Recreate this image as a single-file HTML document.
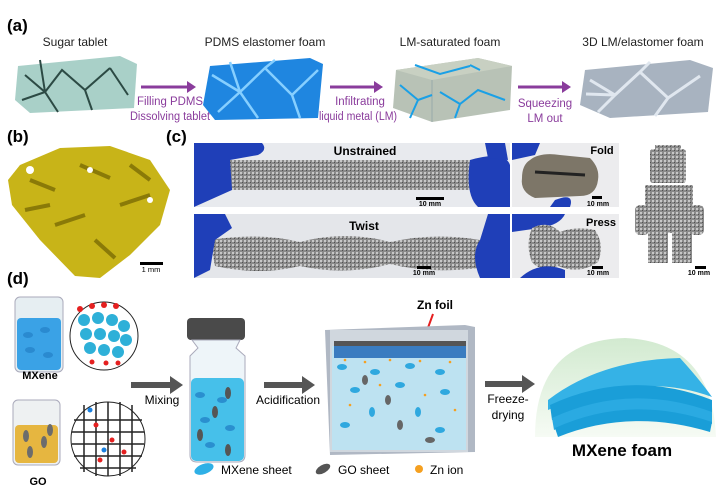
<!DOCTYPE html>
<html><head><meta charset="utf-8"><style>
html,body{margin:0;padding:0;background:#fff}
svg{display:block}
text{font-family:"Liberation Sans",Arial,sans-serif}
</style></head><body>
<svg width="720" height="494" viewBox="0 0 720 494" xmlns="http://www.w3.org/2000/svg">
<defs>
<pattern id="grain" width="4" height="4" patternUnits="userSpaceOnUse">
<rect width="4" height="4" fill="#8a8a8a"/><rect x="0" y="0" width="2" height="2" fill="#c8c8c8"/><rect x="2" y="2" width="1" height="1" fill="#505050"/>
</pattern>
<linearGradient id="dome" x1="0" y1="0" x2="0" y2="1"><stop offset="0" stop-color="#d2ead0"/><stop offset="1" stop-color="#f6fbf4"/></linearGradient>
</defs>
<!-- (a) -->
<text x="7" y="31" font-size="17" font-weight="bold">(a)</text>
<g font-size="12" fill="#222" text-anchor="middle">
<text x="75" y="46">Sugar tablet</text>
<text x="265" y="46">PDMS elastomer foam</text>
<text x="450" y="46">LM-saturated foam</text>
<text x="643" y="46">3D LM/elastomer foam</text>
</g>
<polygon points="18,66 120,56 137,64 134,108 30,113 15,100" fill="#a9d0c8"/>
<path d="M25,75 L45,92 L62,70 L85,90 L110,68 M22,100 L45,92 L58,112 M85,90 L92,110 M110,68 L128,95 M40,60 L45,92" stroke="#2c4a44" stroke-width="2" fill="none"/>
<polygon points="210,66 310,58 323,64 318,118 215,120 203,105" fill="#1f86e0"/>
<path d="M212,75 L240,92 L265,68 L292,95 L318,70 M218,112 L240,92 L258,118 M292,95 L300,118 M230,62 L240,92 M275,60 L265,68" stroke="#86cfff" stroke-width="2.5" fill="none"/>
<polygon points="396,70 478,58 512,66 510,110 432,122 393,108" fill="#b8c2b6"/>
<path d="M396,70 L478,58 L512,66 L432,80 Z" fill="#c8d0c2"/>
<path d="M432,80 L432,122" stroke="#9aa" stroke-width="1"/>
<path d="M400,85 L418,100 L410,118 M418,100 L432,95 M440,92 L460,104 L478,90 L505,100 M460,104 L455,118 M480,70 L470,65 M415,65 L440,74 L470,66" stroke="#1aa0e6" stroke-width="2" fill="none"/>
<polygon points="585,70 690,60 713,68 708,112 610,118 580,105" fill="#a8b3c0"/>
<path d="M590,80 L615,95 L640,72 L668,98 L700,76 M598,112 L615,95 M655,116 L668,98 M586,94 L615,95 M640,72 L650,62" stroke="#e0e7ef" stroke-width="3" fill="none"/>
<g fill="#8a3c9c">
<rect x="141" y="85.5" width="47" height="3"/><polygon points="187,81 196,87 187,93"/>
<rect x="330" y="85.5" width="45" height="3"/><polygon points="374,81 383,87 374,93"/>
<rect x="518" y="85.5" width="45" height="3"/><polygon points="562,81 571,87 562,93"/>
</g>
<g font-size="11.5" fill="#8a3c9c" text-anchor="middle">
<text x="170" y="105" textLength="66" lengthAdjust="spacingAndGlyphs">Filling PDMS</text><text x="170" y="120" textLength="80" lengthAdjust="spacingAndGlyphs">Dissolving tablet</text>
<text x="360" y="105">Infiltrating</text><text x="358" y="120" textLength="78" lengthAdjust="spacingAndGlyphs">liquid metal (LM)</text>
<text x="545" y="107">Squeezing</text><text x="545" y="122">LM out</text>
</g>
<!-- (b) -->
<text x="7" y="142" font-size="17" font-weight="bold">(b)</text>
<path d="M20,165 L60,148 L110,146 L150,160 L170,190 L160,225 L130,255 L100,278 L75,276 L40,240 L12,205 L8,180 Z" fill="#c8b418"/>
<path d="M30,180 L55,190 M80,165 L110,178 M120,205 L150,195 M55,225 L85,215 M95,240 L115,258 M25,210 L50,205 M130,165 L150,180" stroke="#8a7a08" stroke-width="4"/>
<g fill="#fff"><circle cx="30" cy="170" r="4"/><circle cx="90" cy="170" r="3"/><circle cx="150" cy="200" r="3"/></g>
<rect x="140" y="262" width="23" height="3" fill="#000"/>
<text x="151" y="272" font-size="7.5" text-anchor="middle">1 mm</text>
<!-- (c) -->
<text x="166" y="142" font-size="17" font-weight="bold">(c)</text>
<rect x="194" y="143" width="316" height="64" fill="#e8eaee"/>
<rect x="200" y="160" width="290" height="30" fill="url(#grain)"/>
<path d="M194,143 L262,143 Q268,150 258,155 L230,160 L232,190 L194,207 Z" fill="#1f3fb8"/>
<path d="M470,160 Q505,150 510,165 L510,207 L478,207 Q465,195 470,160 Z" fill="#1f3fb8"/>
<path d="M485,143 L505,143 L508,160 L488,158 Z" fill="#1f3fb8"/>
<text x="365" y="155" font-size="12" font-weight="bold" text-anchor="middle">Unstrained</text>
<rect x="416" y="197" width="28" height="3"/><text x="430" y="206" font-size="7" font-weight="bold" text-anchor="middle">10 mm</text>
<rect x="194" y="214" width="316" height="64" fill="#e4e6ea"/>
<path d="M210,240 Q260,232 300,242 Q345,230 390,242 Q435,232 480,240 L478,268 Q430,274 390,264 Q345,276 300,266 Q260,276 215,266 Z" fill="url(#grain)"/>
<path d="M194,214 L225,214 L232,228 L215,240 L210,270 L194,278 Z" fill="#1f3fb8"/>
<path d="M488,214 L510,214 L510,278 L480,278 Q470,255 480,240 Z" fill="#1f3fb8"/>
<text x="364" y="230" font-size="12" font-weight="bold" text-anchor="middle">Twist</text>
<rect x="417" y="266" width="14" height="3"/><text x="424" y="275" font-size="7" font-weight="bold" text-anchor="middle">10 mm</text>
<rect x="512" y="143" width="107" height="64" fill="#ececee"/>
<path d="M530,160 Q540,152 560,155 L590,158 Q600,168 598,180 Q596,196 580,196 L535,198 Q520,192 522,178 Q522,165 530,160 Z" fill="#7d7668"/>
<path d="M535,172 L585,175" stroke="#222" stroke-width="3"/>
<path d="M512,143 L540,143 L535,155 L512,160 Z" fill="#1f3fb8"/>
<path d="M555,200 Q575,192 570,207 L550,207 Z" fill="#1f3fb8"/>
<text x="602" y="154" font-size="11" font-weight="bold" text-anchor="middle">Fold</text>
<rect x="592" y="196" width="10" height="3"/><text x="598" y="206" font-size="7" font-weight="bold" text-anchor="middle">10 mm</text>
<rect x="512" y="214" width="107" height="64" fill="#ececee"/>
<path d="M512,214 L565,214 Q560,225 540,228 L512,232 Z" fill="#1f3fb8"/>
<path d="M532,228 Q548,220 560,232 Q575,226 595,230 Q605,245 598,262 Q580,275 558,266 Q540,272 532,262 Q525,245 532,228 Z" fill="url(#grain)"/>
<path d="M520,278 Q540,260 565,270 L565,278 Z" fill="#1f3fb8"/>
<text x="601" y="226" font-size="11" font-weight="bold" text-anchor="middle">Press</text>
<rect x="592" y="266" width="11" height="3"/><text x="598" y="275" font-size="7" font-weight="bold" text-anchor="middle">10 mm</text>
<g fill="url(#grain)">
<rect x="655" y="145" width="26" height="4"/>
<rect x="650" y="149" width="36" height="34" rx="3"/>
<rect x="645" y="185" width="48" height="48"/>
<rect x="635" y="205" width="14" height="30" rx="5"/><rect x="690" y="205" width="14" height="30" rx="5"/>
<rect x="648" y="233" width="20" height="30"/><rect x="672" y="233" width="20" height="30"/>
</g>
<rect x="695" y="266" width="11" height="3"/><text x="699" y="275" font-size="7" font-weight="bold" text-anchor="middle">10 mm</text>
<!-- (d) -->
<text x="7" y="284" font-size="17" font-weight="bold">(d)</text>
<rect x="15" y="297" width="48" height="75" rx="5" fill="#e6eef2" stroke="#aab"/>
<rect x="17" y="318" width="44" height="52" rx="4" fill="#3aa2e6"/>
<g fill="#2a8ad0"><ellipse cx="28" cy="335" rx="5" ry="3"/><ellipse cx="45" cy="330" rx="5" ry="3"/><ellipse cx="30" cy="350" rx="5" ry="3"/><ellipse cx="48" cy="355" rx="5" ry="3"/></g>
<circle cx="104" cy="336" r="34" fill="#fff" stroke="#222"/>
<g fill="#2eb0d8"><circle cx="84" cy="320" r="6"/><circle cx="98" cy="318" r="6"/><circle cx="112" cy="320" r="6"/><circle cx="124" cy="326" r="6"/><circle cx="86" cy="334" r="6"/><circle cx="100" cy="334" r="6"/><circle cx="114" cy="336" r="6"/><circle cx="126" cy="340" r="6"/><circle cx="90" cy="348" r="6"/><circle cx="104" cy="350" r="6"/><circle cx="118" cy="352" r="6"/></g>
<g fill="#e52020"><circle cx="80" cy="309" r="3"/><circle cx="92" cy="306" r="3"/><circle cx="104" cy="305" r="3"/><circle cx="116" cy="306" r="3"/><circle cx="92" cy="362" r="2.5"/><circle cx="106" cy="363" r="2.5"/><circle cx="118" cy="363" r="2.5"/></g>
<text x="40" y="379" font-size="11" font-weight="bold" text-anchor="middle">MXene</text>
<rect x="13" y="400" width="47" height="65" rx="5" fill="#eef1f2" stroke="#aab"/>
<rect x="15" y="425" width="43" height="38" rx="4" fill="#e6b640"/>
<g fill="#6c6c6c"><ellipse cx="26" cy="436" rx="3" ry="6"/><ellipse cx="44" cy="442" rx="3" ry="6"/><ellipse cx="30" cy="452" rx="3" ry="6"/><ellipse cx="50" cy="430" rx="3" ry="6"/></g>
<circle cx="108" cy="439" r="37" fill="#fff" stroke="#222"/>
<g stroke="#222" stroke-width="1.5" fill="none">
<path d="M74,420 L142,420 M72,432 L144,432 M72,444 L144,444 M74,456 L142,456 M80,468 L136,468"/>
<path d="M84,405 L84,472 M96,402 L96,476 M108,402 L108,476 M120,402 L120,476 M132,405 L132,472"/>
</g>
<g fill="#e52020"><circle cx="96" cy="425" r="2.5"/><circle cx="112" cy="440" r="2.5"/><circle cx="100" cy="460" r="2.5"/><circle cx="124" cy="452" r="2.5"/></g>
<g fill="#1a80e0"><circle cx="104" cy="450" r="2.5"/><circle cx="90" cy="410" r="2.5"/></g>
<text x="38" y="485" font-size="11" font-weight="bold" text-anchor="middle">GO</text>
<g fill="#555"><rect x="131" y="382" width="40" height="6"/><polygon points="170,376 183,385 170,394"/></g>
<text x="162" y="404" font-size="12" text-anchor="middle">Mixing</text>
<rect x="187" y="318" width="58" height="22" rx="4" fill="#4a4a4a"/>
<path d="M192,340 L240,340 L236,348 L245,356 L245,455 Q245,462 238,462 L197,462 Q190,462 190,455 L190,356 L198,348 Z" fill="#eef5f9" stroke="#aab"/>
<rect x="191" y="378" width="53" height="83" rx="5" fill="#46c0ea"/>
<g fill="#2a8fcf"><ellipse cx="200" cy="395" rx="5" ry="3"/><ellipse cx="222" cy="400" rx="5" ry="3"/><ellipse cx="205" cy="420" rx="5" ry="3"/><ellipse cx="230" cy="428" rx="5" ry="3"/><ellipse cx="210" cy="445" rx="5" ry="3"/></g>
<g fill="#555"><ellipse cx="228" cy="393" rx="3" ry="6"/><ellipse cx="215" cy="412" rx="3" ry="6"/><ellipse cx="200" cy="435" rx="3" ry="6"/><ellipse cx="228" cy="450" rx="3" ry="6"/></g>
<g fill="#555"><rect x="264" y="382" width="39" height="6"/><polygon points="302,376 315,385 302,394"/></g>
<text x="288" y="404" font-size="12" text-anchor="middle">Acidification</text>
<text x="435" y="309" font-size="12" font-weight="bold" text-anchor="middle">Zn foil</text>
<path d="M433,314 L425,336" stroke="#e52020" stroke-width="2"/><polygon points="420,333 429,336 423,343" fill="#e52020"/>
<polygon points="325,330 465,325 475,327 475,452 330,455" fill="#b0b8c4"/>
<rect x="330" y="330" width="138" height="122" fill="#d0d7de"/>
<rect x="332" y="346" width="134" height="104" fill="#bde2f1"/>
<rect x="334" y="341" width="132" height="5" fill="#555"/>
<rect x="334" y="346" width="132" height="12" fill="#3a7cc0"/>
<g fill="#2fa8df"><ellipse cx="342" cy="367" rx="5" ry="3"/><ellipse cx="375" cy="372" rx="5" ry="3"/><ellipse cx="410" cy="366" rx="5" ry="3"/><ellipse cx="440" cy="372" rx="5" ry="3"/><ellipse cx="355" cy="390" rx="5" ry="3"/><ellipse cx="400" cy="385" rx="5" ry="3"/><ellipse cx="445" cy="392" rx="5" ry="3"/><ellipse cx="372" cy="412" rx="3" ry="5"/><ellipse cx="418" cy="412" rx="3" ry="5"/><ellipse cx="345" cy="425" rx="5" ry="3"/><ellipse cx="440" cy="430" rx="5" ry="3"/></g>
<g fill="#666"><ellipse cx="365" cy="380" rx="3" ry="5"/><ellipse cx="388" cy="400" rx="3" ry="5"/><ellipse cx="400" cy="425" rx="3" ry="5"/><ellipse cx="430" cy="440" rx="5" ry="3"/></g>
<g fill="#f5a020"><circle cx="345" cy="360" r="1.3"/><circle cx="365" cy="362" r="1.3"/><circle cx="390" cy="360" r="1.3"/><circle cx="420" cy="361" r="1.3"/><circle cx="450" cy="362" r="1.3"/><circle cx="380" cy="385" r="1.3"/><circle cx="425" cy="395" r="1.3"/><circle cx="350" cy="405" r="1.3"/><circle cx="455" cy="410" r="1.3"/></g>
<g fill="#555"><rect x="485" y="381" width="38" height="6"/><polygon points="522,375 535,384 522,393"/></g>
<text x="508" y="403" font-size="12" text-anchor="middle">Freeze-</text>
<text x="508" y="419" font-size="12" text-anchor="middle">drying</text>
<path d="M535,437 Q535,340 625,338 Q712,342 716,437 Z" fill="url(#dome)"/>
<path d="M548,400 Q600,360 680,358 Q700,380 712,397 Q640,370 548,410 Z" fill="#35b2e6"/>
<path d="M550,405 Q630,368 712,400 L712,414 Q630,384 552,420 Z" fill="#1a9ed8"/>
<path d="M552,418 Q630,382 712,412 L712,424 Q630,396 554,430 Z" fill="#2aaae2"/>
<path d="M555,428 Q630,394 712,422 L710,432 Q630,408 558,437 Z" fill="#1a9ed8"/>
<text x="622" y="456" font-size="17" font-weight="bold" text-anchor="middle">MXene foam</text>
<ellipse cx="204" cy="469" rx="10" ry="5" fill="#2fb0e6" transform="rotate(-20 204 469)"/>
<text x="221" y="474" font-size="12">MXene sheet</text>
<ellipse cx="323" cy="469" rx="8" ry="4" fill="#555" transform="rotate(-30 323 469)"/>
<text x="338" y="474" font-size="12">GO sheet</text>
<circle cx="419" cy="469" r="4" fill="#f5a020"/>
<text x="430" y="474" font-size="12">Zn ion</text>
</svg>
</body></html>
